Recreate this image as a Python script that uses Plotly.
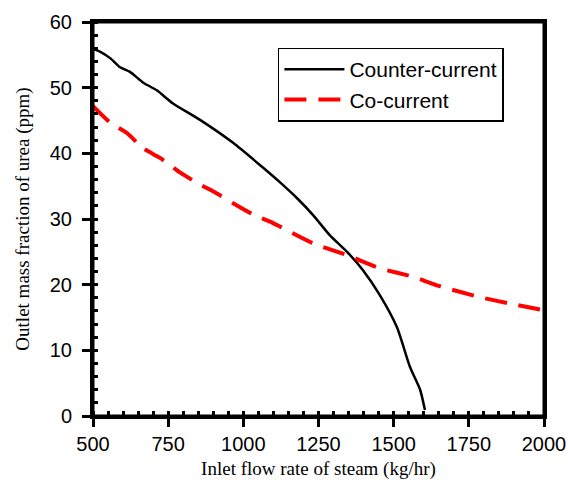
import plotly.graph_objects as go

# Counter-current series
cc_x = [500, 523, 557, 590, 623, 666, 712, 766, 856, 966, 1066, 1124, 1178, 1232, 1288, 1345, 1398, 1454, 1511, 1554, 1588, 1604]
cc_y = [55.9, 55.5, 54.5, 53.1, 52.4, 50.8, 49.6, 47.6, 45.1, 41.6, 37.8, 35.5, 33.2, 30.6, 27.5, 25.0, 22.2, 18.4, 13.5, 7.5, 4.0, 0.9]

# Co-current series
co_x = [500, 557, 613, 666, 723, 789, 846, 912, 966, 1032, 1089, 1124, 1232, 1345, 1454, 1564, 1644, 1787, 1910, 2000]
co_y = [47.2, 44.7, 43.1, 40.8, 39.3, 37.1, 35.5, 33.9, 32.4, 30.7, 29.6, 28.8, 26.3, 24.5, 22.5, 21.2, 19.9, 18.1, 16.9, 16.1]

x_range = [500, 2000]
y_range = [0, 60]

fig = go.Figure()
fig.add_trace(go.Scatter(x=cc_x, y=cc_y, mode="lines", name="Counter-current",
                         line=dict(color="black", width=2.5, shape="spline", smoothing=0.6)))
fig.add_trace(go.Scatter(x=co_x, y=co_y, mode="lines", name="Co-current",
                         line=dict(color="#ff0000", width=4, dash="22px,12px", shape="spline", smoothing=0.6)))

axis_common = dict(showline=True, linecolor="black", linewidth=3, mirror=True,
                   showgrid=False, zeroline=False, ticks="outside", ticklen=8,
                   tickwidth=2.5, tickcolor="black", automargin=False,
                   tickfont=dict(family="Liberation Sans, Arial", size=20, color="black"))

fig.update_xaxes(range=x_range, tickmode="linear", tick0=500, dtick=250,
                 minor=dict(ticks="inside", tick0=500, dtick=50, ticklen=5, tickwidth=2.5,
                            tickcolor="black", showgrid=False),
                 title=dict(text="Inlet flow rate of steam (kg/hr)",
                            font=dict(family="Liberation Serif, Times New Roman", size=19, color="black"),
                            standoff=8),
                 **axis_common)
fig.update_yaxes(range=y_range, tickmode="linear", tick0=0, dtick=10,
                 minor=dict(ticks="inside", tick0=0, dtick=2, ticklen=5, tickwidth=2.5,
                            tickcolor="black", showgrid=False),
                 title=dict(text="Outlet mass fraction of urea (ppm)",
                            font=dict(family="Liberation Serif, Times New Roman", size=19, color="black"),
                            standoff=16),
                 ticklabelstandoff=6,
                 **axis_common)

fig.add_shape(type="rect", xref="paper", yref="paper", x0=0, y0=0, x1=1, y1=1,
              line=dict(color="black", width=3), fillcolor="rgba(0,0,0,0)", layer="above")

fig.update_layout(
    width=568, height=489,
    margin=dict(l=93, r=24, t=22, b=73),
    paper_bgcolor="white", plot_bgcolor="white",
    showlegend=True,
    legend=dict(x=0.41, y=0.935, xanchor="left", yanchor="top",
                bgcolor="white", bordercolor="black", borderwidth=1.5,
                font=dict(family="Liberation Sans, Arial", size=21, color="black"),
                itemwidth=60, tracegroupgap=2),
)

fig.write_html("out.html")
